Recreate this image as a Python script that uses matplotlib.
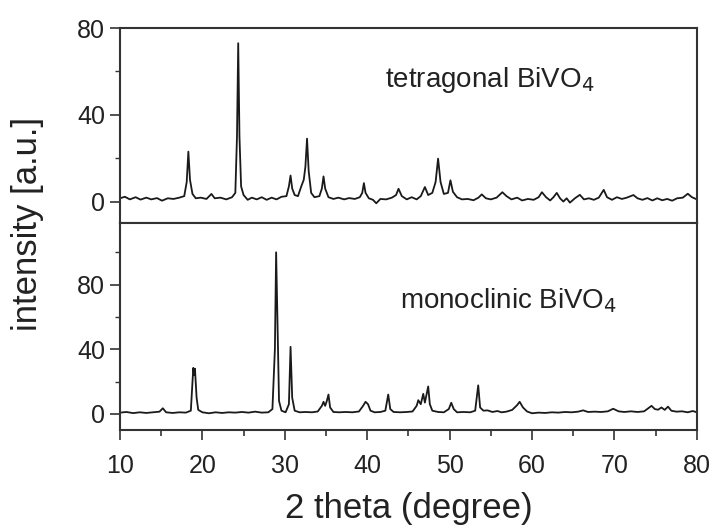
import matplotlib.pyplot as plt
from matplotlib.ticker import MultipleLocator

plt.rcParams['font.family'] = ['Liberation Sans', 'DejaVu Sans']

# tetragonal BiVO4 pattern (2 theta, intensity)
tet_x = [10.0, 10.6, 11.2, 11.9, 12.5, 13.2, 13.8, 14.5, 15.1, 15.8, 16.5, 17.2, 17.8, 18.1, 18.3, 18.5,
         18.8, 19.2, 19.8, 20.5, 21.1, 21.5, 22.2, 22.9, 23.6, 24.0, 24.2, 24.35, 24.5, 24.7, 25.0,
         25.5, 26.0, 26.6, 27.2, 27.8, 28.4, 29.0, 29.6, 30.2, 30.5, 30.7, 30.9, 31.2, 31.6, 32.0,
         32.3, 32.5, 32.7, 32.9, 33.2, 33.6, 34.2, 34.5, 34.7, 34.9, 35.3, 35.9, 36.5, 37.2, 37.8,
         38.5, 39.1, 39.4, 39.6, 39.8, 40.2, 40.7, 41.1, 41.6, 42.3, 43.0, 43.5, 43.8, 44.2, 44.8,
         45.4, 46.0, 46.5, 47.0, 47.4, 47.9, 48.3, 48.6, 48.9, 49.3, 49.8, 50.1, 50.4, 50.9, 51.5,
         52.2, 52.9, 53.5, 53.9, 54.4, 55.0, 55.7, 56.4, 56.9, 57.5, 58.2, 58.8, 59.5, 60.2, 60.8,
         61.2, 61.7, 62.2, 62.6, 63.0, 63.4, 63.8, 64.2, 64.6, 65.2, 65.8, 66.3, 66.9, 67.5, 68.1,
         68.7, 69.1, 69.7, 70.3, 70.9, 71.5, 72.3, 72.8, 73.4, 74.0, 74.6, 75.2, 75.8, 76.4, 77.0,
         77.6, 78.3, 78.9, 79.4, 80.0]
tet_y = [1.5, 2.2, 1.0, 2.0, 0.9, 1.8, 1.0, 1.6, 0.4, 1.5, 1.2, 1.8, 2.5, 9.0, 23.0, 10.0,
         3.5, 1.5, 1.8, 1.2, 3.5, 1.5, 1.8, 1.0, 2.0, 4.0, 30.0, 73.0, 30.0, 7.0, 3.0,
         0.8, 1.8, 1.0, 2.0, 0.8, 1.8, 1.0, 2.2, 2.5, 7.0, 12.0, 6.0, 3.0, 2.5, 7.0,
         10.0, 16.0, 29.0, 14.0, 4.0, 2.0, 2.5, 6.0, 11.6, 6.0, 2.0, 1.2, 1.8, 1.0, 1.6,
         1.2, 2.0, 4.0, 8.5, 4.0, 1.5, 0.8, -0.8, 1.2, 1.0, 1.8, 3.0, 5.9, 2.5, 1.0,
         2.0, 1.0, 2.5, 6.7, 3.0, 4.0, 9.0, 19.8, 9.0, 3.5, 4.0, 9.8, 4.5, 2.0, 1.0,
         1.2, 0.6, 1.8, 3.3, 1.5, 1.0, 1.8, 4.3, 2.5, 1.0, 1.8, 0.5, 1.2, 0.8, 2.0,
         4.3, 2.0, 0.5, 2.0, 4.0, 1.5, 0.0, 1.5, -0.5, 1.5, 3.1, 1.0, 1.5, 0.8, 1.8,
         5.4, 2.0, 0.8, 2.0, 1.2, 1.8, 3.0, 1.5, 0.8, 1.6, 0.5, 1.5, 0.6, 1.2, 0.4,
         1.5, 1.8, 3.6, 2.0, 1.0]

# monoclinic BiVO4 pattern
mono_x = [10.0, 10.8, 11.6, 12.4, 13.2, 14.0, 14.8, 15.2, 15.6, 16.4, 17.2, 18.0, 18.6, 18.8, 18.9,
          19.0, 19.1, 19.3, 19.5, 20.0, 20.8, 21.6, 22.4, 23.2, 24.0, 24.8, 25.6, 26.4, 27.2, 28.0,
          28.5, 28.8, 28.95, 29.1, 29.3, 29.6, 30.1, 30.5, 30.7, 30.9, 31.2, 31.8, 32.5, 33.3, 34.0,
          34.5, 34.7, 34.9, 35.1, 35.3, 35.5, 35.9, 36.6, 37.4, 38.2, 39.0, 39.5, 39.8, 40.1, 40.4,
          40.9, 41.6, 42.2, 42.55, 42.8, 43.2, 44.0, 44.8, 45.5, 46.0, 46.2, 46.5, 46.8, 47.0, 47.4,
          47.6, 47.9, 48.6, 49.3, 49.9, 50.2, 50.5, 50.9, 51.7, 52.5, 53.1, 53.47, 53.7, 54.1, 54.6,
          55.2, 55.8, 56.3, 56.9, 57.6, 58.2, 58.5, 58.9, 59.4, 60.0, 60.8, 61.6, 62.4, 63.2, 64.0,
          64.8, 65.6, 66.2, 66.8, 67.6, 68.4, 69.2, 69.85, 70.5, 71.2, 72.0, 72.8, 73.6, 74.1, 74.5,
          74.9, 75.3, 75.7, 76.1, 76.5, 76.9, 77.5, 78.2, 78.9, 79.5, 80.0]
mono_y = [0.8, 1.2, 0.5, 1.0, 0.6, 1.0, 1.4, 3.5, 1.0, 0.6, 1.0, 0.8, 2.0, 20.0, 28.5,
          24.0, 28.0, 10.0, 2.5, 1.0, 0.4, 1.0, 0.6, 1.0, 0.8, 1.2, 0.8, 1.4, 0.8, 1.0,
          3.0, 40.0, 100.0, 60.0, 8.0, 2.0, 1.0, 6.0, 41.5, 10.0, 2.0, 1.0, 1.2, 1.0, 1.5,
          5.0, 7.5, 5.0, 8.0, 12.0, 4.0, 1.2, 1.0, 1.2, 1.0, 1.5, 5.0, 7.5, 6.0, 2.0,
          1.0, 1.2, 2.0, 12.0, 3.0, 1.2, 1.0, 1.2, 1.5, 5.0, 8.5, 6.0, 12.4, 7.0, 17.0,
          6.0, 2.0, 1.2, 1.0, 3.0, 6.9, 3.0, 1.0, 1.2, 1.0, 2.0, 17.7, 4.0, 2.0, 2.2,
          1.2, 1.8, 1.0, 1.4, 2.5, 5.5, 7.5, 4.0, 1.5, 0.4, 0.8, 0.6, 1.0, 0.8, 1.2,
          1.0, 1.4, 2.2, 1.2, 1.4, 1.2, 1.6, 3.2, 1.6, 1.2, 1.6, 1.2, 1.6, 3.5, 5.0,
          3.0, 2.6, 4.0, 2.5, 4.5, 2.0, 1.4, 1.6, 1.0, 1.8, 1.0]

x_ticks = [10, 20, 30, 40, 50, 60, 70, 80]
y_ticks = [0, 40, 80]

fig = plt.figure(figsize=(7.14, 5.29), dpi=100)
ax1 = fig.add_axes([0.168, 0.578, 0.808, 0.369])
ax2 = fig.add_axes([0.168, 0.187, 0.808, 0.391])

line_c = '#1a1a1a'
txt_c = '#222222'

ax1.plot(tet_x, tet_y, color=line_c, lw=1.3)
ax2.plot(mono_x, mono_y, color=line_c, lw=1.3)

ax1.set_xlim(10, 80)
ax2.set_xlim(10, 80)
ax1.set_ylim(-10, 80)
ax2.set_ylim(-10, 118)

for ax in (ax1, ax2):
    for s in ax.spines.values():
        s.set_linewidth(1.5)
        s.set_color('#333333')
    ax.set_yticks(y_ticks)
    ax.yaxis.set_minor_locator(MultipleLocator(20))
    ax.tick_params(axis='y', which='major', direction='out', length=7, width=1.2,
                   labelsize=18, labelcolor=txt_c, color='#333333')
    ax.tick_params(axis='y', which='minor', direction='out', length=3.5, width=1.0,
                   color='#333333')
    ax.set_xticks(x_ticks)
    ax.xaxis.set_minor_locator(MultipleLocator(5))

# top panel: its bottom ticks hang down into the lower panel
ax1.tick_params(axis='x', which='both', direction='out', labelbottom=False,
                color='#333333', width=1.2)
ax1.tick_params(axis='x', which='major', length=7)
ax1.tick_params(axis='x', which='minor', length=4.5)
ax2.tick_params(axis='x', which='both', direction='out', top=False, color='#333333', width=1.2)
ax2.tick_params(axis='x', which='major', length=7, labelsize=18, labelcolor=txt_c, pad=10)
ax2.tick_params(axis='x', which='minor', length=4.5)

ax1.text(42.1, 56, 'tetragonal BiVO$_4$', fontsize=20, color=txt_c, va='center')
ax2.text(44.0, 70, 'monoclinic BiVO$_4$', fontsize=20, color=txt_c, va='center')

ax2.set_xlabel('2 theta (degree)', fontsize=25, color=txt_c, labelpad=10)
fig.text(0.038, 0.576, 'intensity [a.u.]', rotation=90, fontsize=25, color=txt_c,
         ha='center', va='center')

fig.savefig('out.png', dpi=100)
